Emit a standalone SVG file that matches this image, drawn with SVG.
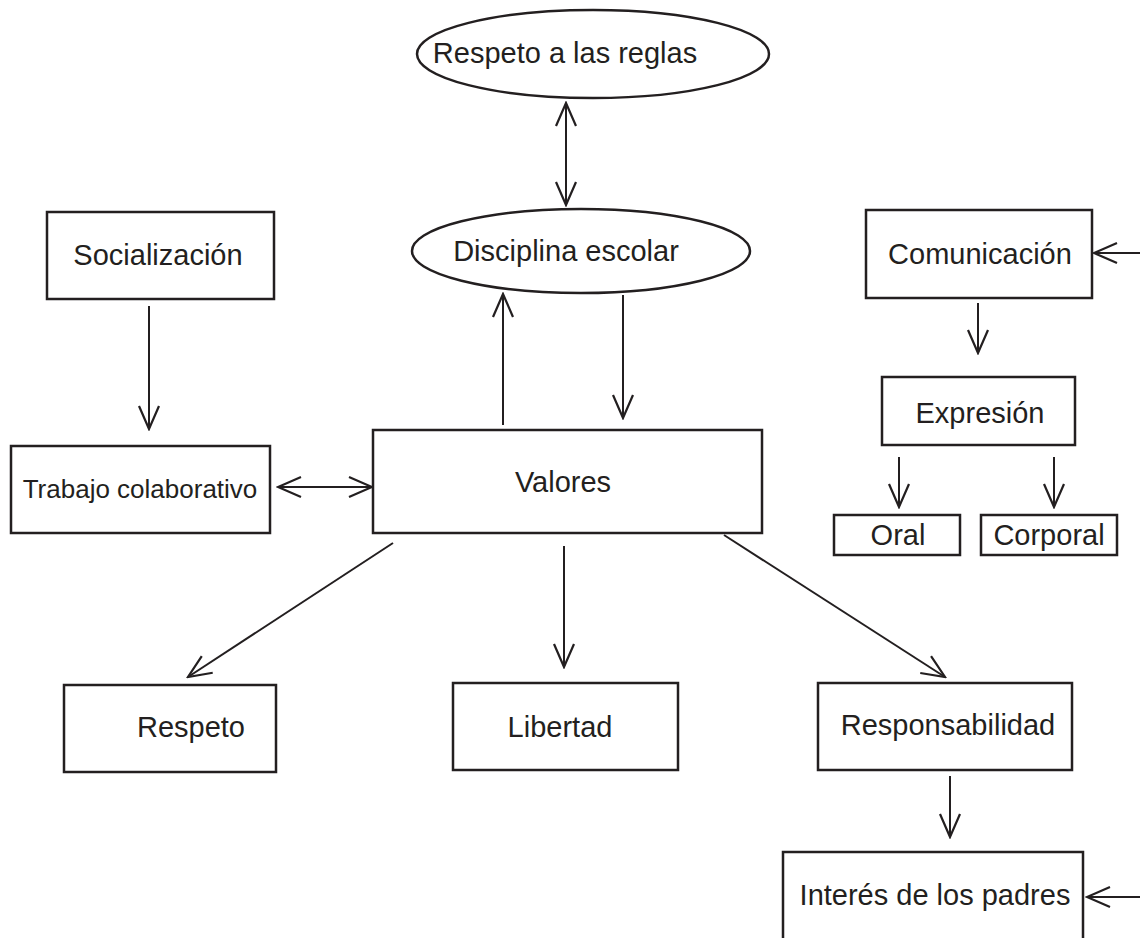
<svg xmlns="http://www.w3.org/2000/svg" width="1140" height="938" viewBox="0 0 1140 938">
<style>
.box{fill:#fff;stroke:#231f20;stroke-width:2.5}
.t{font-family:"Liberation Sans",Arial,sans-serif;font-size:29px;fill:#231f20;text-anchor:middle}
.c{fill:none;stroke:#231f20;stroke-width:2}
</style>
<defs>
<marker id="ah" viewBox="-26 -13 28 26" refX="0" refY="0" markerWidth="28" markerHeight="26" markerUnits="userSpaceOnUse" orient="auto-start-reverse">
<path d="M-23,-10 L0,0 L-23,10" fill="none" stroke="#231f20" stroke-width="2.2"/>
</marker>
</defs>
<rect width="1140" height="938" fill="#fff"/>
<g id="connectors">
<line class="c" x1="566" y1="103" x2="566" y2="205" marker-start="url(#ah)" marker-end="url(#ah)"/>
<line class="c" x1="149" y1="306" x2="149" y2="429" marker-end="url(#ah)"/>
<line class="c" x1="278" y1="487" x2="372" y2="487" marker-start="url(#ah)" marker-end="url(#ah)"/>
<line class="c" x1="503" y1="425" x2="503" y2="294" marker-end="url(#ah)"/>
<line class="c" x1="623" y1="295" x2="623" y2="418" marker-end="url(#ah)"/>
<line class="c" x1="564" y1="546" x2="564" y2="667" marker-end="url(#ah)"/>
<line class="c" x1="393" y1="543" x2="188" y2="677" marker-end="url(#ah)"/>
<line class="c" x1="724" y1="535" x2="945" y2="677" marker-end="url(#ah)"/>
<line class="c" x1="950" y1="776" x2="950" y2="837" marker-end="url(#ah)"/>
<line class="c" x1="1140" y1="897" x2="1087" y2="897" marker-end="url(#ah)"/>
<line class="c" x1="1140" y1="253" x2="1094" y2="253" marker-end="url(#ah)"/>
<line class="c" x1="978" y1="303" x2="978" y2="353" marker-end="url(#ah)"/>
<line class="c" x1="899" y1="457" x2="899" y2="507" marker-end="url(#ah)"/>
<line class="c" x1="1054" y1="457" x2="1054" y2="507" marker-end="url(#ah)"/>
</g>
<g id="respeto-reglas"><ellipse class="box" cx="593" cy="54" rx="176" ry="44"/><text class="t" x="565" y="63">Respeto a las reglas</text></g>
<g id="disciplina"><ellipse class="box" cx="581" cy="251" rx="169" ry="42"/><text class="t" x="566" y="261">Disciplina escolar</text></g>
<g id="socializacion"><rect class="box" x="47" y="212" width="227" height="87"/><text class="t" x="158" y="265">Socialización</text></g>
<g id="trabajo"><rect class="box" x="11" y="446" width="259" height="87"/><text class="t" x="140" y="498" style="font-size:26px">Trabajo colaborativo</text></g>
<g id="valores"><rect class="box" x="373" y="430" width="389" height="103"/><text class="t" x="563" y="492">Valores</text></g>
<g id="respeto"><rect class="box" x="64" y="685" width="212" height="87"/><text class="t" x="191" y="737">Respeto</text></g>
<g id="libertad"><rect class="box" x="453" y="683" width="225" height="87"/><text class="t" x="560" y="737">Libertad</text></g>
<g id="responsabilidad"><rect class="box" x="818" y="683" width="254" height="87"/><text class="t" x="948" y="735">Responsabilidad</text></g>
<g id="interes"><rect class="box" x="783" y="852" width="300" height="100"/><text class="t" x="935" y="905">Interés de los padres</text></g>
<g id="comunicacion"><rect class="box" x="866" y="210" width="226" height="88"/><text class="t" x="980" y="264">Comunicación</text></g>
<g id="expresion"><rect class="box" x="882" y="377" width="193" height="68"/><text class="t" x="980" y="423">Expresión</text></g>
<g id="oral"><rect class="box" x="834" y="515" width="126" height="40"/><text class="t" x="898" y="545">Oral</text></g>
<g id="corporal"><rect class="box" x="981" y="515" width="136" height="40"/><text class="t" x="1049" y="545">Corporal</text></g>
</svg>
